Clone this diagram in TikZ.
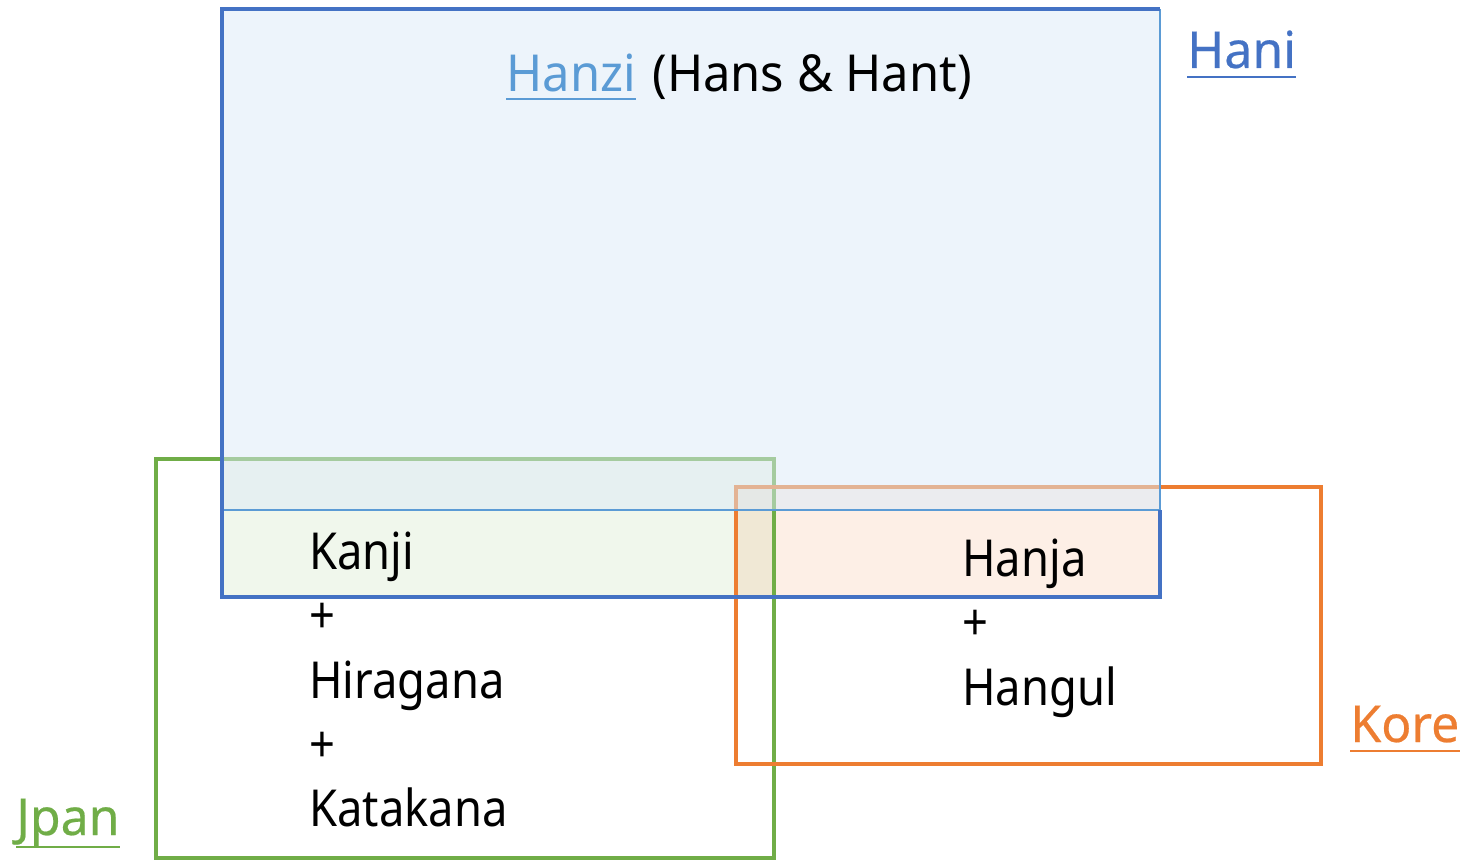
\documentclass[tikz,border=0pt]{standalone}
\usepackage{fontspec}
\setmainfont[FakeStretch=0.89]{Noto Sans}
\newfontfamily\widefont[FakeStretch=0.96]{Noto Sans}
\newfontfamily\tagfont[FakeStretch=0.98,FakeBold=0.4]{Noto Sans}
\usetikzlibrary{positioning}
\definecolor{haniblue}{HTML}{4472C4}
\definecolor{hanzilink}{HTML}{5B9BD5}
\definecolor{hanzifill}{HTML}{DBE9F7}
\definecolor{jpangreen}{HTML}{70AD47}
\definecolor{koreorange}{HTML}{ED7D31}
\tikzset{
  lbl/.style={anchor=base west, inner sep=0pt, font=\fontsize{29}{35}\selectfont},
  title/.style={lbl, font=\fontsize{29}{35}\selectfont\widefont},
  tag/.style={lbl, font=\fontsize{29}{35}\selectfont\tagfont},
  ulink/.style={line width=1.1pt},
}
\begin{document}
\begin{tikzpicture}[x=0.02cm, y=-0.02cm]
\useasboundingbox (0,0) rectangle (1465,861);
% Kanji and Hanja strips
\fill[jpangreen, opacity=0.1] (222,459) rectangle (774,597);
\fill[koreorange, opacity=0.12] (736,487) rectangle (1160,597);
% Jpan and Kore frames
\draw[jpangreen, line width=1.8pt] (156,459) rectangle (774,858);
\draw[koreorange, line width=1.8pt] (736,487) rectangle (1321,764);
% Hanzi area
\fill[hanzifill, opacity=0.5] (222,9) rectangle (1160,510);
\draw[hanzilink, line width=0.8pt] (222,510) -- (1160,510) -- (1160,9);
% Hani frame
\draw[haniblue, line width=2.2pt] (1160,510) -- (1160,597) -- (222,597) -- (222,9) -- (1160,9);
% titles
\node[title, text=hanzilink] (hanzi) at (506,92) {Hanzi};
\node[title, right=9pt of hanzi.base east, anchor=base west] (hanshant) {(Hans \& Hant)};
\draw[hanzilink, ulink] ([yshift=-4pt]hanzi.base west) -- ([yshift=-4pt]hanzi.base east);
\node[tag, text=haniblue] (hani) at (1187,68) {Hani};
\draw[haniblue, ulink] ([yshift=-5pt]hani.base west) -- ([yshift=-5pt]hani.base east);
\node[tag, text=koreorange] (kore) at (1350,742) {Kore};
\draw[koreorange, ulink] ([yshift=-5pt]kore.base west) -- ([yshift=-5pt]kore.base east);
\node[tag, text=jpangreen] (jpan) at (16,835) {Jpan};
\draw[jpangreen, ulink] ([yshift=-6.8pt]jpan.base west) -- ([yshift=-6.8pt]jpan.base east);
% scripts
\foreach \w [count=\i] in {Kanji,+,Hiragana,+,Katakana}
  \node[lbl] (jp\i) at (309,{570+64*(\i-1)}) {\w};
\foreach \w [count=\i] in {Hanja,+,Hangul}
  \node[lbl] (ko\i) at (962,{577+64*(\i-1)}) {\w};
\end{tikzpicture}
\end{document}
